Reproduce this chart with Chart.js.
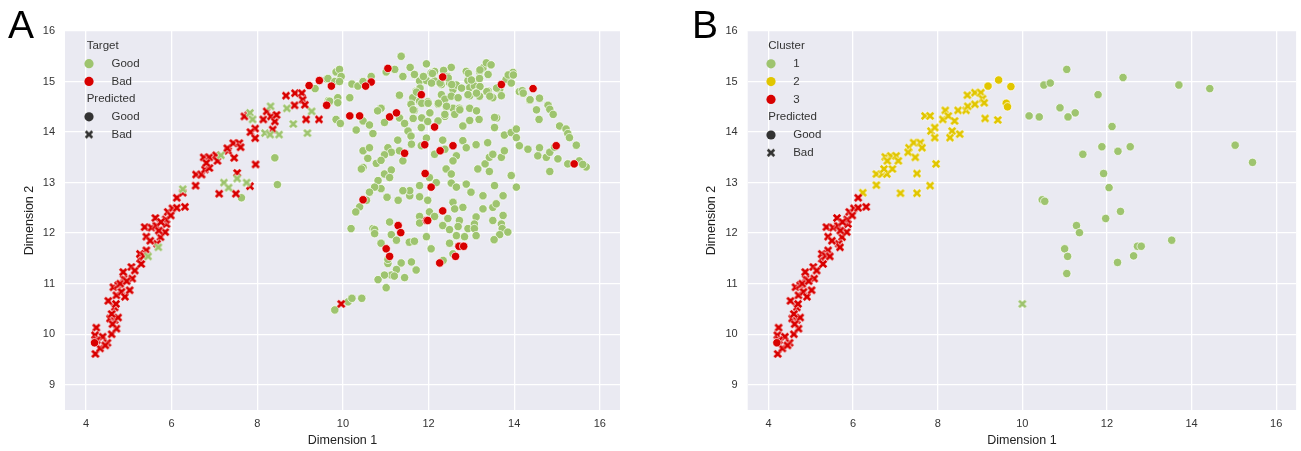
<!DOCTYPE html>
<html>
<head>
<meta charset="utf-8">
<script src="https://cdn.jsdelivr.net/npm/chart.js@4/dist/chart.umd.min.js"></script>
<style>
html, body { margin: 0; padding: 0; background: #fff; }
#wrap { position: relative; width: 1301px; height: 451px; overflow: hidden; }
canvas { position: absolute; top: 0; }
#cA { left: 0; }
#cB { left: 650px; }
.tag { position: absolute; top: 5px; font-family: "Liberation Sans", Arial, sans-serif; font-size: 39px; line-height: 39px; color: #000; }
</style>
</head>
<body>
<div id="wrap">
  <canvas id="cA" width="650" height="451"></canvas>
  <canvas id="cB" width="651" height="451"></canvas>
  <div class="tag" style="left:8px">A</div>
  <div class="tag" style="left:692px">B</div>
</div>
<script>
// ====================
// data
// ====================
const xTicks = [4, 6, 8, 10, 12, 14, 16];
const yTicks = [9, 10, 11, 12, 13, 14, 15, 16];

// panel A: Target (colour) x Predicted (marker)
const aGoodCircle = [
  [9.35,14.86],[9.62,15.05],[9.66,14.62],[8.41,13.49],[8.47,12.96],[7.63,12.70],
  [11.36,15.50],[11.95,15.35],[11.01,15.19],[11.21,15.24],[11.57,15.28],[12.53,15.28],[12.35,15.22],[12.14,15.20],
  [12.88,15.20],[13.27,15.27],[13.35,15.37],[13.46,15.33],[13.19,15.20],[13.39,15.14],[13.89,15.14],[13.97,15.18],
  [9.65,15.06],[9.84,15.19],[9.92,15.24],[9.96,15.1],[9.81,15.0],[9.92,15.0],
  [11.40,15.10],[11.67,15.14],[11.87,15.09],[12.06,15.17],[11.79,15.01],[11.95,15.02],[12.14,15.01],[12.45,15.10],
  [12.49,14.97],[12.30,14.94],[12.57,14.84],[12.65,14.93],[12.92,15.02],[13.04,15.01],[13.19,15.06],[12.96,14.88],
  [13.07,14.91],[13.11,14.78],[12.96,14.72],[13.19,14.71],[13.39,14.81],[13.50,14.68],[13.66,14.84],[13.81,15.04],
  [13.93,14.97],[13.70,14.72],[14.12,14.80],[14.19,14.82],[14.36,14.63],[14.59,14.67],[14.79,14.53],[14.83,14.45],
  [14.91,14.35],[14.58,14.25],[10.21,14.95],[10.35,14.91],[10.47,15.0],[10.66,15.10],[10.16,14.68],[9.88,14.68],
  [9.69,14.61],[9.88,14.58],[11.32,14.73],[11.71,14.81],[11.63,14.68],[11.59,14.55],[11.79,14.61],[11.98,14.60],
  [12.22,14.55],[12.30,14.74],[12.38,14.65],[12.53,14.71],[12.69,14.68],[11.67,14.43],[12.41,14.50],[12.57,14.47],
  [12.72,14.47],[12.96,14.47],[12.61,14.35],
  [11.88,15.10],[12.09,15.16],[12.07,14.97],[11.80,14.87],[12.27,14.97],[12.46,15.07],[12.54,14.94],[11.72,14.79],
  [11.64,14.44],[11.84,14.57],[11.99,14.57],[12.23,14.57],[12.77,14.87],[12.93,15.16],[13.00,15.03],[13.20,15.23],
  [13.20,14.90],[12.92,14.74],[13.12,14.77],[13.36,14.80],[13.59,14.87],[13.43,14.71],[12.73,14.44],[12.38,14.31],
  [13.86,15.13],[13.98,15.13],[14.21,14.77],[14.37,14.64],[14.52,14.44],[11.33,14.28],[11.64,14.27],[11.84,14.28],
  [12.03,14.38],[13.12,14.42],[13.59,14.28],[12.42,14.51],
  [9.84,14.25],[9.94,14.17],[10.47,14.22],[10.62,14.14],[10.31,14.04],[10.89,14.47],[10.81,14.42],[11.32,14.28],
  [11.44,14.17],[11.52,14.02],[11.59,13.92],[10.97,14.19],[10.70,13.97],[11.83,14.09],[11.98,14.21],[12.22,14.22],
  [12.38,14.35],[12.96,14.23],[13.18,14.25],[12.80,14.12],[13.54,14.29],[13.54,14.09],[13.77,13.94],[13.93,13.99],
  [14.05,14.06],[14.05,13.89],[15.06,14.12],[15.21,14.06],[15.25,13.97],[15.29,13.89],[15.45,13.74],
  [10.47,13.63],[10.62,13.69],[11.05,13.69],[11.13,13.60],[11.32,13.63],[11.28,13.84],[11.60,13.76],[11.40,13.43],
  [10.97,13.55],[10.78,13.38],[10.89,13.44],[10.58,13.48],[10.47,13.30],[11.83,13.73],[11.95,13.88],[12.14,13.56],
  [12.38,13.66],[12.33,13.84],[12.80,13.83],[12.65,13.53],[12.57,13.43],[12.41,13.27],[12.53,13.17],[12.88,13.69],
  [13.11,13.75],[13.38,13.79],[13.15,13.27],[13.32,13.37],[13.42,13.50],[13.50,13.56],[13.70,13.50],[13.77,13.63],
  [13.42,13.22],[14.12,13.73],[14.32,13.66],[14.59,13.69],[14.55,13.53],[14.75,13.50],[14.83,13.60],[14.94,13.70],
  [15.02,13.47],[15.25,13.37],[15.52,13.43],[15.68,13.31],[15.60,13.36],[14.83,13.22],[13.93,13.14],
  [10.43,13.27],[10.97,13.17],[11.13,13.25],[11.09,13.10],[10.82,13.04],[10.89,12.88],[10.74,12.91],[10.62,12.81],
  [10.55,12.65],[10.39,12.52],[10.30,12.42],[10.19,12.09],[11.03,12.71],[11.29,12.65],[11.56,12.74],[11.56,12.84],
  [11.40,12.84],[11.79,12.94],[11.79,12.72],[11.98,12.65],[12.02,13.10],[12.18,13.00],[12.53,12.99],[12.65,12.91],
  [12.88,12.97],[12.99,12.81],[13.27,12.74],[13.54,12.94],[13.74,12.74],[14.05,12.91],[13.50,12.51],[13.58,12.58],
  [12.57,12.61],[12.80,12.51],[12.61,12.48],[12.02,12.42],[11.79,12.33],[12.14,12.33],[12.45,12.29],[12.72,12.25],
  [13.11,12.32],[13.74,12.35],[13.27,12.48],[11.09,12.22],[10.70,12.09],[11.79,12.20],
  [10.74,12.07],[10.74,11.99],[11.13,11.97],[11.25,11.86],[10.89,11.80],[11.05,11.40],[11.36,11.41],[11.60,11.43],
  [11.71,11.27],[11.25,11.28],[11.13,11.17],[10.97,11.17],[10.82,11.08],[11.44,11.12],[11.01,10.92],[11.20,11.15],
  [11.55,11.82],[11.67,11.84],[11.95,11.93],[12.06,11.69],[12.33,12.15],[12.49,12.07],[12.69,12.13],[12.65,11.95],
  [12.49,11.80],[12.84,11.93],[12.92,12.09],[13.07,12.18],[13.07,12.09],[13.11,11.95],[12.57,11.59],[12.34,11.46],
  [13.50,12.25],[13.70,12.18],[13.72,12.09],[13.85,12.02],[13.66,11.97],[13.53,11.87],[11.05,11.48],
  [9.81,10.48],[10.12,10.64],[10.21,10.71],[10.44,10.71]
];
const aBadCircle = [
  [4.20,9.83],[9.21,14.92],[9.45,15.02],[9.62,14.53],[9.73,14.91],[11.05,15.26],[12.33,15.09],[13.70,14.94],
  [14.44,14.86],[10.66,14.99],[10.53,14.91],[11.83,14.74],[10.16,14.32],[10.39,14.32],[11.09,14.30],[11.25,14.38],
  [12.14,14.10],[11.44,13.58],[11.91,13.75],[12.27,13.63],[12.57,13.73],[14.98,13.73],[15.40,13.37],[10.47,12.66],
  [11.92,13.18],[12.06,12.91],[12.33,12.44],[11.95,12.25],[11.29,12.15],[11.35,12.01],[11.01,11.69],[11.09,11.54],
  [11.98,12.25],[12.71,11.74],[12.82,11.74],[12.63,11.54],[12.26,11.41]
];
const aGoodX = [
  [5.45,11.54],[5.69,11.72],[6.26,12.87],[7.15,13.54],[7.22,13.0],[7.33,12.9],[7.53,13.08],[7.75,13.0],
  [7.83,14.38],[7.89,14.25],[8.31,14.51],[8.18,13.98],[8.30,13.95],[8.51,13.95],[8.69,14.47],[8.84,14.16],
  [9.27,14.41],[9.17,13.98]
];
const aBadX = [
  [4.22,9.61],[4.24,10.13],[4.21,9.98],[4.39,9.95],[4.33,9.72],[4.50,9.83],[4.60,10.0],[4.56,10.31],
  [4.67,10.28],[4.75,10.33],[4.71,10.11],[4.67,10.53],[4.52,10.66],[4.64,10.93],[4.75,10.97],[4.71,10.77],
  [4.83,10.84],[4.91,10.74],[4.88,11.10],[4.87,11.23],[5.02,10.87],[5.08,11.10],[5.06,11.33],[5.14,11.26],
  [5.26,11.49],[5.29,11.39],[5.41,11.66],[5.26,11.59],[5.41,11.93],[5.37,12.12],[5.53,12.11],[5.64,12.15],
  [5.74,11.92],[5.66,11.79],[5.85,12.02],[5.88,12.18],[4.25,9.88],[4.62,10.20],[4.80,11.0],[4.95,11.05],
  [5.35,11.55],[5.5,11.85],[5.7,12.05],[4.45,9.78],[4.6,10.4],[4.7,10.6],
  [5.62,12.30],[5.86,12.27],[5.91,12.42],[6.02,12.49],[6.12,12.50],[6.31,12.52],[6.12,12.70],[5.75,12.22],
  [5.98,12.35],[6.26,12.80],[6.56,12.94],[6.57,13.16],[6.70,13.16],[6.78,13.26],[6.88,13.29],[6.75,13.50],
  [6.88,13.50],[6.81,13.39],[7.04,13.54],[7.07,13.43],[7.32,13.63],[7.30,13.68],[7.44,13.78],[7.58,13.78],
  [7.61,13.70],[7.46,13.49],[7.53,13.19],[7.11,12.78],[7.50,12.78],[7.83,12.93],[7.96,13.36],[7.79,14.34],
  [7.95,14.07],[7.84,14.0],[7.95,13.88],[7.70,14.31],[8.14,14.25],[8.22,14.41],[8.32,14.31],[8.41,14.21],
  [8.36,14.05],[8.67,14.72],[8.88,14.77],[9.04,14.77],[8.87,14.53],[9.06,14.64],[9.11,14.54],[9.14,14.25],
  [9.44,14.25],[8.45,14.34],[9.96,10.60]
];

// panel B: Cluster (colour) x Predicted (marker)
const bC1Circle = [
  [11.05,15.24],[12.38,15.08],[13.70,14.93],[14.43,14.86],[10.51,14.93],[10.66,14.97],[11.79,14.74],[10.89,14.48],
  [11.25,14.38],[11.08,14.30],[10.16,14.32],[10.40,14.30],[12.12,14.11],[11.88,13.71],[12.26,13.62],[12.55,13.71],
  [11.43,13.56],[11.92,13.18],[12.05,12.90],[15.03,13.74],[15.44,13.40],[10.47,12.66],[10.53,12.63],[12.32,12.43],
  [11.97,12.29],[11.28,12.15],[11.35,12.01],[11.00,11.69],[11.07,11.54],[11.05,11.20],[12.25,11.42],[12.63,11.55],
  [12.72,11.74],[12.81,11.74],[13.53,11.86]
];
const bC1X = [[10.0,10.60]];
const bC2Circle = [[9.19,14.91],[9.44,15.03],[9.73,14.90],[9.62,14.57],[9.65,14.50]];
const bC2X = [
  [6.23,12.80],[6.55,12.95],[6.55,13.17],[6.69,13.17],[6.80,13.17],[6.73,13.27],[6.93,13.27],[6.76,13.51],
  [6.89,13.53],[7.02,13.53],[6.81,13.43],[7.07,13.43],[7.12,12.79],[7.32,13.69],[7.30,13.60],[7.43,13.79],
  [7.59,13.79],[7.63,13.69],[7.47,13.50],[7.51,13.18],[7.51,12.79],[7.82,12.94],[7.96,13.37],[7.70,14.32],
  [7.82,14.32],[7.84,14.02],[7.93,14.09],[7.93,13.89],[8.12,14.25],[8.18,14.43],[8.25,14.32],[8.40,14.22],
  [8.34,14.02],[8.29,13.89],[8.52,13.96],[8.48,14.43],[8.67,14.43],[8.71,14.51],[8.70,14.73],[8.88,14.78],
  [8.88,14.55],[9.02,14.78],[9.06,14.66],[9.10,14.58],[9.12,14.27],[9.42,14.24]
];
const bC3Circle = [[4.20,9.83]];
const bC3X = [
  [4.22,9.61],[4.24,10.13],[4.21,9.98],[4.39,9.95],[4.33,9.72],[4.50,9.83],[4.60,10.0],[4.56,10.31],
  [4.67,10.28],[4.75,10.33],[4.71,10.11],[4.67,10.53],[4.52,10.66],[4.64,10.93],[4.75,10.97],[4.71,10.77],
  [4.83,10.84],[4.91,10.74],[4.88,11.10],[4.87,11.23],[5.02,10.87],[5.08,11.10],[5.06,11.33],[5.14,11.26],
  [5.26,11.49],[5.29,11.39],[5.41,11.66],[5.26,11.59],[5.41,11.93],[5.37,12.12],[5.53,12.11],[5.64,12.15],
  [5.74,11.92],[5.66,11.79],[5.85,12.02],[5.88,12.18],[4.25,9.88],[4.62,10.20],[4.80,11.0],[4.95,11.05],
  [5.35,11.55],[5.5,11.85],[5.7,12.05],[4.45,9.78],[4.6,10.4],[4.7,10.6],[5.45,11.54],[5.69,11.72],
  [5.62,12.30],[5.86,12.27],[5.91,12.42],[6.02,12.49],[6.12,12.50],[6.31,12.52],[6.12,12.70],[5.75,12.22],
  [5.98,12.35]
];

const legendA = ['Target', 'Good', 'Bad', 'Predicted', 'Good', 'Bad'];
const legendB = ['Cluster', '1', '2', '3', 'Predicted', 'Good', 'Bad'];

// ====================
// styles
// ====================
const FONT = '"Liberation Sans", Arial, sans-serif';
const GREEN = '#9ec46f';
const RED = '#d80000';
const YELLOW = '#e1c600';
const DARK = '#333333';
const X_MIN = 3.51, X_MAX = 16.47, Y_MIN = 8.5, Y_MAX = 16;

// chunky X marker like seaborn's "X" (white edge, filled arms)
function makeX(color) {
  const c = document.createElement('canvas');
  c.width = c.height = 12;
  const g = c.getContext('2d');
  const m = 6, r = 3.3;
  [['#ffffff', 4.0], [color, 2.8]].forEach(([col, w]) => {
    g.strokeStyle = col;
    g.lineWidth = w;
    g.beginPath();
    g.moveTo(m - r, m - r); g.lineTo(m + r, m + r);
    g.moveTo(m + r, m - r); g.lineTo(m - r, m + r);
    g.stroke();
  });
  return c;
}

const toPts = arr => arr.map(p => ({x: p[0], y: p[1]}));

function circleSet(data, color) {
  return { data: toPts(data), pointStyle: 'circle', pointRadius: 4.2, pointHoverRadius: 4.2,
           backgroundColor: color, borderColor: '#ffffff', borderWidth: 0.7 };
}
function xSet(data, color) {
  return { data: toPts(data), pointStyle: makeX(color), pointRadius: 4, pointHoverRadius: 4,
           backgroundColor: color, borderColor: color, borderWidth: 0 };
}

// grey panel background
const bgPlugin = {
  id: 'panelBg',
  beforeDraw(chart) {
    const {ctx, chartArea: a} = chart;
    ctx.save();
    ctx.fillStyle = '#eaeaf2';
    ctx.fillRect(a.left, a.top, a.right - a.left, a.bottom - a.top);
    ctx.restore();
  }
};

// seaborn style legend inside the axes
const legendPlugin = {
  id: 'sbLegend',
  afterDatasetsDraw(chart, args, opts) {
    const {ctx, chartArea: a} = chart;
    ctx.save();
    ctx.font = '11.5px ' + FONT;
    ctx.textBaseline = 'middle';
    ctx.textAlign = 'left';
    opts.items.forEach((it, i) => {
      const y = a.top + opts.top + i * opts.row;
      ctx.fillStyle = '#333';
      if (it.kind === 'title') {
        ctx.fillText(it.text, a.left + opts.titleX, y);
        return;
      }
      const mx = a.left + opts.markX;
      if (it.kind === 'circle') {
        ctx.beginPath();
        ctx.arc(mx, y, 4.6, 0, Math.PI * 2);
        ctx.fillStyle = it.color;
        ctx.fill();
      } else {
        const img = makeX(it.color);
        ctx.drawImage(img, mx - img.width / 2, y - img.height / 2);
      }
      ctx.fillStyle = '#333';
      ctx.fillText(it.text, a.left + opts.textX, y);
    });
    ctx.restore();
  }
};

function makeChart(id, datasets, legendItems, pad, yWidth, lg) {
  new Chart(document.getElementById(id), {
    type: 'scatter',
    data: { datasets: datasets },
    options: {
      responsive: false,
      animation: false,
      events: [],
      layout: { padding: pad },
      plugins: {
        legend: { display: false },
        tooltip: { enabled: false },
        sbLegend: Object.assign({ items: legendItems }, lg)
      },
      scales: {
        x: {
          type: 'linear', min: X_MIN, max: X_MAX,
          afterBuildTicks: s => { s.ticks = xTicks.map(v => ({value: v})); },
          afterFit: s => { s.height = 41; },
          grid: { color: '#ffffff', lineWidth: 1.3, drawTicks: false },
          border: { display: false },
          ticks: { padding: 7, color: '#333', font: { size: 11, family: FONT } },
          title: { display: true, text: 'Dimension 1', color: '#222', font: { size: 12.5, family: FONT },
                   padding: { top: 0, bottom: 3 } }
        },
        y: {
          type: 'linear', min: Y_MIN, max: Y_MAX,
          afterBuildTicks: s => { s.ticks = yTicks.map(v => ({value: v})); },
          afterFit: s => { s.width = yWidth; },
          grid: { color: '#ffffff', lineWidth: 1.3, drawTicks: false },
          border: { display: false },
          ticks: { padding: 10, color: '#333', font: { size: 11, family: FONT } },
          title: { display: true, text: 'Dimension 2', color: '#222', font: { size: 12.5, family: FONT },
                   padding: { top: 4, bottom: 0 } }
        }
      }
    },
    plugins: [bgPlugin, legendPlugin]
  });
}

// ====================
// panel A
// ====================
makeChart('cA', [
  circleSet(aBadCircle, RED),
  xSet(aGoodX, GREEN),
  xSet(aBadX, RED),
  circleSet(aGoodCircle, GREEN)
], [
  { kind: 'title', text: legendA[0] },
  { kind: 'circle', color: GREEN, text: legendA[1] },
  { kind: 'circle', color: RED, text: legendA[2] },
  { kind: 'title', text: legendA[3] },
  { kind: 'circle', color: DARK, text: legendA[4] },
  { kind: 'x', color: DARK, text: legendA[5] }
], { left: 18, right: 30, top: 31, bottom: 0 }, 47,
   { top: 15, row: 17.7, titleX: 21.7, markX: 24, textX: 46.5 });

// ====================
// panel B
// ====================
makeChart('cB', [
  circleSet(bC3Circle, RED),
  xSet(bC3X, RED),
  circleSet(bC2Circle, YELLOW),
  xSet(bC2X, YELLOW),
  xSet(bC1X, GREEN),
  circleSet(bC1Circle, GREEN)
], [
  { kind: 'title', text: legendB[0] },
  { kind: 'circle', color: GREEN, text: legendB[1] },
  { kind: 'circle', color: YELLOW, text: legendB[2] },
  { kind: 'circle', color: RED, text: legendB[3] },
  { kind: 'title', text: legendB[4] },
  { kind: 'circle', color: DARK, text: legendB[5] },
  { kind: 'x', color: DARK, text: legendB[6] }
], { left: 50, right: 0, top: 31, bottom: 0 }, 47.7,
   { top: 15, row: 17.8, titleX: 20.6, markX: 23.3, textX: 45.5 });
</script>
</body>
</html>
